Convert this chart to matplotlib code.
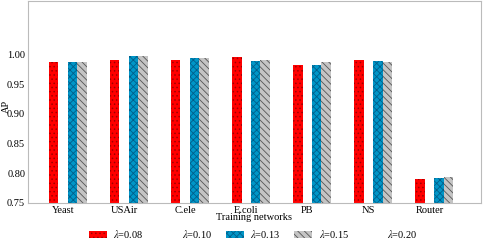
import matplotlib
matplotlib.use("Agg")
import matplotlib.pyplot as plt
import numpy as np

networks = ["Yeast", "USAir", "C.ele", "E.coli", "PB", "NS", "Router"]
lambdas = ["0.08", "0.10", "0.13", "0.15", "0.20"]
ap_008 = [0.987, 0.990, 0.990, 0.995, 0.983, 0.990, 0.790]
ap_010 = [0.0, 0.0, 0.0, 0.0, 0.0, 0.0, 0.0]
ap_013 = [0.987, 0.998, 0.994, 0.989, 0.982, 0.989, 0.792]
ap_015 = [0.987, 0.997, 0.994, 0.990, 0.988, 0.988, 0.793]
ap_020 = [0.0, 0.0, 0.0, 0.0, 0.0, 0.0, 0.0]
yticks = [0.75, 0.80, 0.85, 0.90, 0.95, 1.00]

plt.rcParams['font.family'] = ['Liberation Serif', 'DejaVu Serif']
plt.rcParams['mathtext.fontset'] = 'stix'
plt.rcParams['hatch.linewidth'] = 0.6

fig = plt.figure(figsize=(4.85, 2.41), dpi=100)
ax = fig.add_axes([0.0577, 0.158, 0.934, 0.838])

x = np.arange(len(networks))
w = 0.155
series = [ap_008, ap_010, ap_013, ap_015, ap_020]
faces = ["#ff0000", "white", "#0096c8", "#c4c4c4", "white"]
hcols = ["#a00000", "white", "#005f8a", "#555555", "white"]
hatches = ["....", None, "xxxxx", "\\\\\\\\\\", None]
for k, (vals, fc, hc, h) in enumerate(zip(series, faces, hcols, hatches)):
    ax.bar(x + k * w, vals, width=w, color=fc, edgecolor=hc, linewidth=0,
           hatch=h, label=r"$\lambda$=" + lambdas[k], align="center")

ax.set_ylim(0.75, 1.09)
ax.set_xlim(-0.42, 7.0)
ax.set_yticks(yticks)
ax.set_yticklabels([f"{t:.2f}" for t in yticks])
ax.set_xticks(x + w)
ax.set_xticklabels(networks)
ax.tick_params(length=0, labelsize=7.5, pad=2)
for s in ax.spines.values():
    s.set_color("#bbbbbb")
    s.set_linewidth(0.8)
ax.set_xlabel("Training networks", fontsize=7.5, labelpad=-1)
ax.set_ylabel("AP", fontsize=7.5)
ax.yaxis.set_label_coords(-0.037, 0.48)

leg = fig.legend(loc="lower center", bbox_to_anchor=(0.522, -0.035), ncol=5,
                 frameon=False, fontsize=7.5, handlelength=1.75, handleheight=0.7,
                 columnspacing=1.3, handletextpad=0.6)

fig.savefig("out.png", dpi=100)
